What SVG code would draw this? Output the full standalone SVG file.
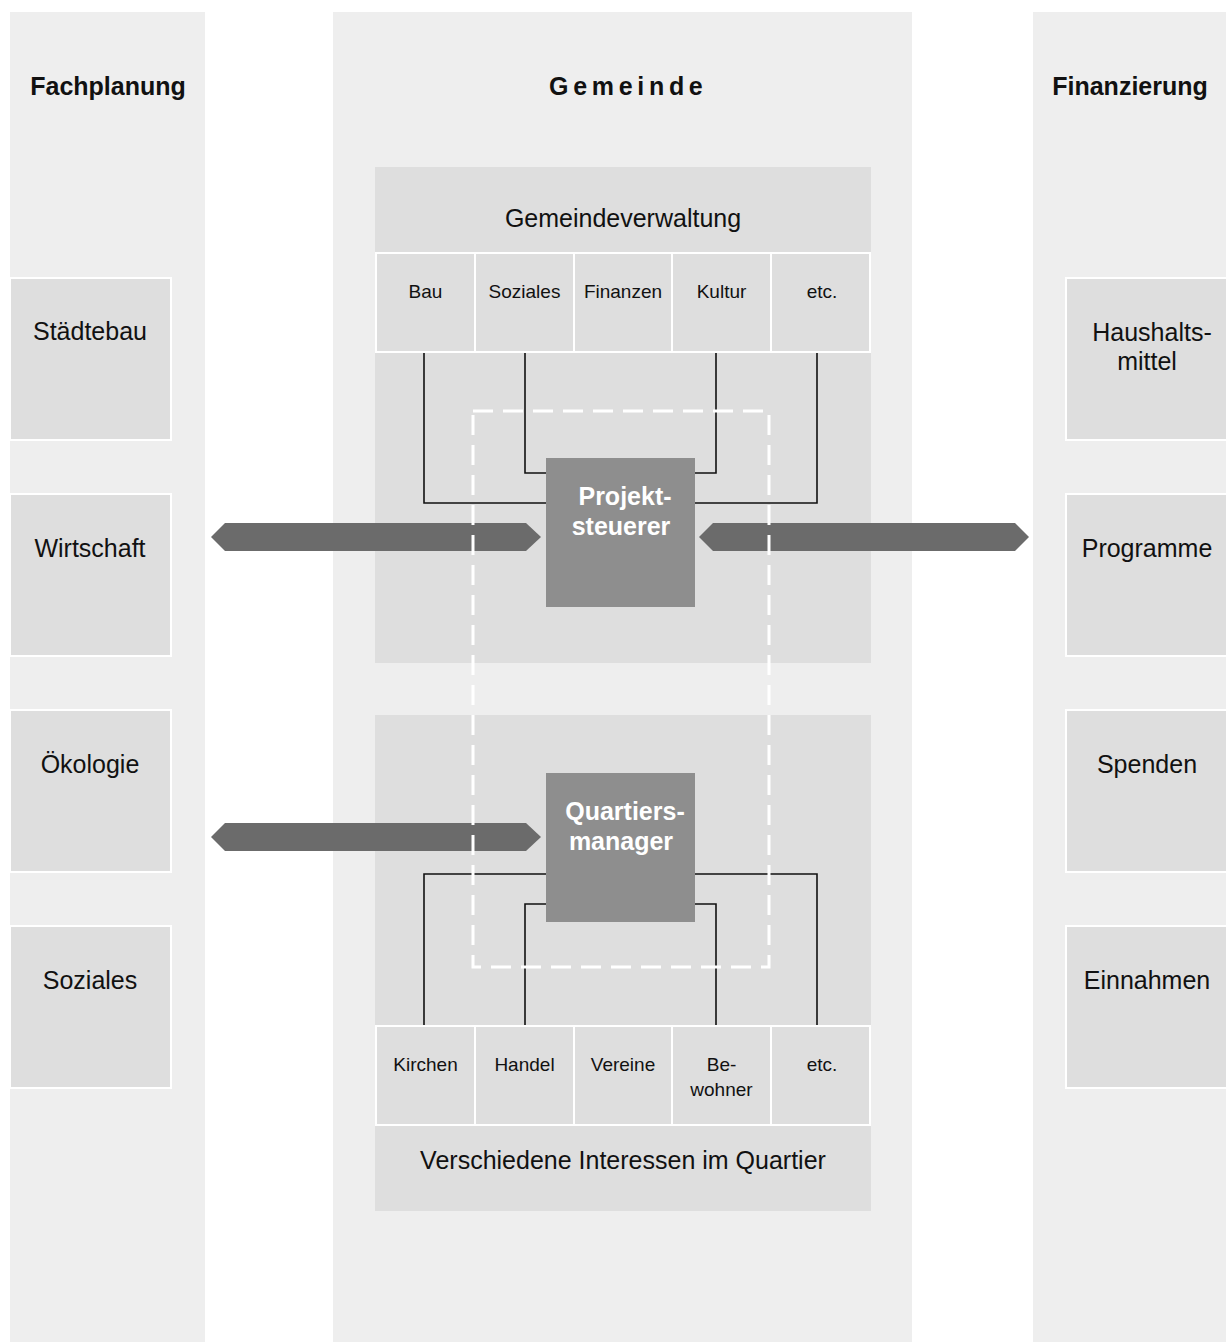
<svg xmlns="http://www.w3.org/2000/svg" width="1226" height="1342" viewBox="0 0 1226 1342">
<style>
.col{fill:#eeeeee}
.blk{fill:#dedede}
.box{fill:#dedede;stroke:#ffffff;stroke-width:2}
.lbl{font-family:"Liberation Sans",Arial,sans-serif;font-size:25px;fill:#111111;text-anchor:middle}
.cell{font-family:"Liberation Sans",Arial,sans-serif;font-size:19px;fill:#111111;text-anchor:middle}
.hdr{font-family:"Liberation Sans",Arial,sans-serif;font-size:25px;font-weight:bold;fill:#111111;text-anchor:middle}
.key{fill:#8e8e8e}
.keyt{font-family:"Liberation Sans",Arial,sans-serif;font-size:25px;font-weight:bold;fill:#ffffff;text-anchor:middle}
.arr{fill:#6b6b6b}
.ln{fill:none;stroke:#111111;stroke-width:1.6}
.dash{fill:none;stroke:#ffffff;stroke-width:3;stroke-dasharray:20 10}
</style>
<rect width="1226" height="1342" fill="#ffffff"/>
<g id="columns">
<rect class="col" x="10" y="12" width="195" height="1330"/>
<rect class="col" x="333" y="12" width="579" height="1330"/>
<rect class="col" x="1033" y="12" width="193" height="1330"/>
<text class="hdr" x="108" y="95">Fachplanung</text>
<text class="hdr" x="549" y="95" style="text-anchor:start;letter-spacing:4.7px">Gemeinde</text>
<text class="hdr" x="1130" y="95">Finanzierung</text>
</g>
<g id="fachplanung">
<g id="staedtebau"><rect class="box" x="10" y="278" width="161" height="162"/><text class="lbl" x="90" y="340">Städtebau</text></g>
<g id="wirtschaft"><rect class="box" x="10" y="494" width="161" height="162"/><text class="lbl" x="90" y="557">Wirtschaft</text></g>
<g id="oekologie"><rect class="box" x="10" y="710" width="161" height="162"/><text class="lbl" x="90" y="773">Ökologie</text></g>
<g id="soziales-l"><rect class="box" x="10" y="926" width="161" height="162"/><text class="lbl" x="90" y="989">Soziales</text></g>
</g>
<g id="finanzierung">
<g id="haushaltsmittel"><rect class="box" x="1066" y="278" width="162" height="162"/><text class="lbl" x="1152" y="341">Haushalts-</text><text class="lbl" x="1147" y="370">mittel</text></g>
<g id="programme"><rect class="box" x="1066" y="494" width="162" height="162"/><text class="lbl" x="1147" y="557">Programme</text></g>
<g id="spenden"><rect class="box" x="1066" y="710" width="162" height="162"/><text class="lbl" x="1147" y="773">Spenden</text></g>
<g id="einnahmen"><rect class="box" x="1066" y="926" width="162" height="162"/><text class="lbl" x="1147" y="989">Einnahmen</text></g>
</g>
<g id="gemeindeverwaltung">
<rect class="blk" x="375" y="167" width="496" height="496"/>
<text class="lbl" x="623" y="227">Gemeindeverwaltung</text>
<g id="gv-bau"><rect class="box" x="376" y="253" width="99" height="99"/><text class="cell" x="425.5" y="298">Bau</text></g>
<g id="gv-soziales"><rect class="box" x="475" y="253" width="99" height="99"/><text class="cell" x="524.5" y="298">Soziales</text></g>
<g id="gv-finanzen"><rect class="box" x="574" y="253" width="98" height="99"/><text class="cell" x="623" y="298">Finanzen</text></g>
<g id="gv-kultur"><rect class="box" x="672" y="253" width="99" height="99"/><text class="cell" x="721.5" y="298">Kultur</text></g>
<g id="gv-etc"><rect class="box" x="771" y="253" width="99" height="99"/><text class="cell" x="822" y="298">etc.</text></g>
</g>
<g id="quartier">
<rect class="blk" x="375" y="715" width="496" height="496"/>
<g id="q-kirchen"><rect class="box" x="376" y="1026" width="99" height="99"/><text class="cell" x="425.5" y="1071">Kirchen</text></g>
<g id="q-handel"><rect class="box" x="475" y="1026" width="99" height="99"/><text class="cell" x="524.5" y="1071">Handel</text></g>
<g id="q-vereine"><rect class="box" x="574" y="1026" width="98" height="99"/><text class="cell" x="623" y="1071">Vereine</text></g>
<g id="q-bewohner"><rect class="box" x="672" y="1026" width="99" height="99"/><text class="cell" x="721.5" y="1071">Be-</text><text class="cell" x="721.5" y="1096">wohner</text></g>
<g id="q-etc"><rect class="box" x="771" y="1026" width="99" height="99"/><text class="cell" x="822" y="1071">etc.</text></g>
<text class="lbl" x="623" y="1169">Verschiedene Interessen im Quartier</text>
</g>
<g id="connectors">
<polyline class="ln" points="424,353 424,503 546,503"/>
<polyline class="ln" points="525,353 525,473 546,473"/>
<polyline class="ln" points="695,473 716,473 716,353"/>
<polyline class="ln" points="695,503 817,503 817,353"/>
<polyline class="ln" points="424,1025 424,874 546,874"/>
<polyline class="ln" points="525,1025 525,904 546,904"/>
<polyline class="ln" points="695,904 716,904 716,1025"/>
<polyline class="ln" points="695,874 817,874 817,1025"/>
<polygon class="arr" points="211,537 225,523 526,523 541,537 526,551 225,551"/>
<polygon class="arr" points="699,537 713,523 1015,523 1029,537 1015,551 713,551"/>
<polygon class="arr" points="211,837 225,823 526,823 541,837 526,851 225,851"/>
<rect class="dash" x="473" y="411" width="296" height="556"/>
</g>
<g id="projektsteuerer">
<rect class="key" x="546" y="458" width="149" height="149"/>
<text class="keyt" x="625" y="505">Projekt-</text>
<text class="keyt" x="621" y="535">steuerer</text>
</g>
<g id="quartiersmanager">
<rect class="key" x="546" y="773" width="149" height="149"/>
<text class="keyt" x="625" y="820">Quartiers-</text>
<text class="keyt" x="621" y="850">manager</text>
</g>
</svg>
